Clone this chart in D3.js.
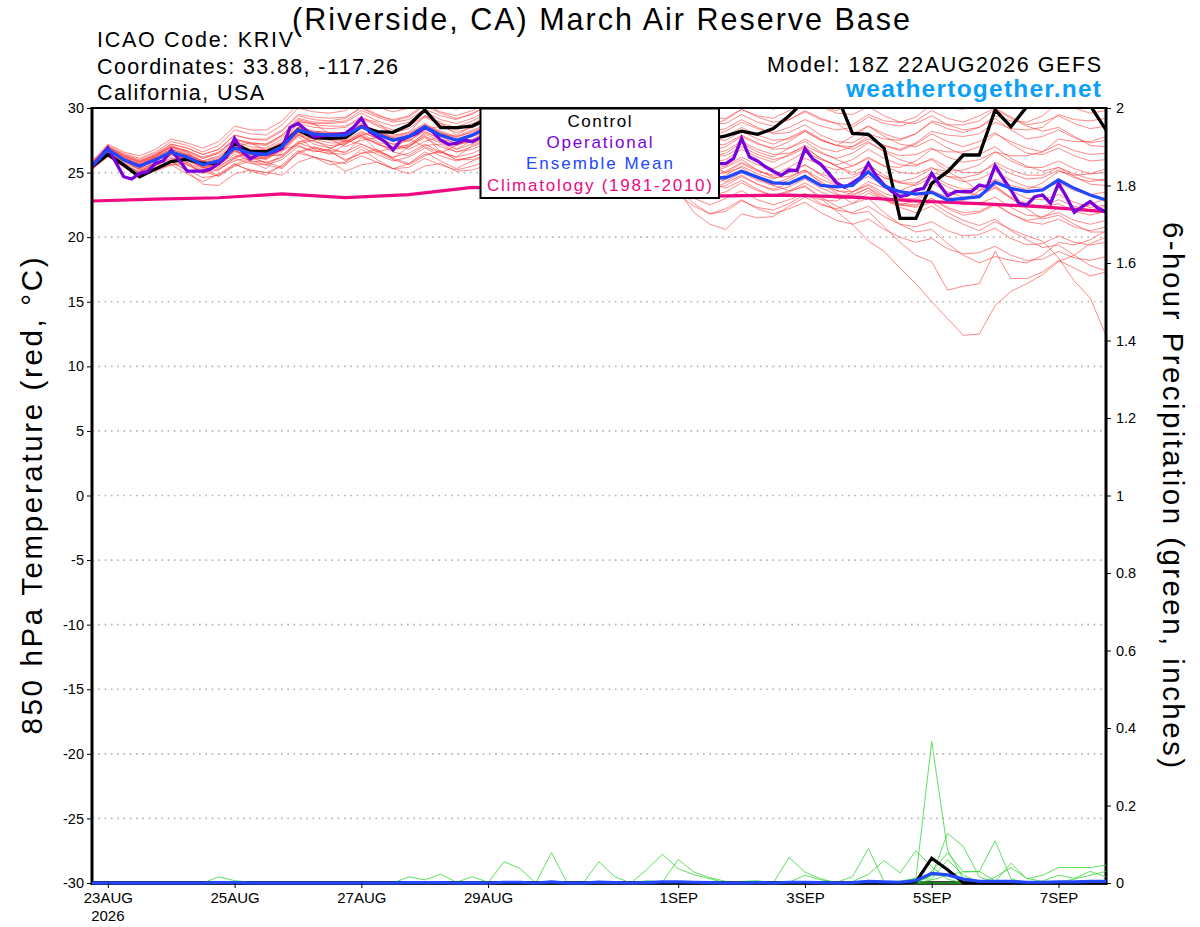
<!DOCTYPE html>
<html><head><meta charset="utf-8">
<script src="https://cdn.jsdelivr.net/npm/d3@7"></script>
<style>
body{margin:0;background:#fff;}
svg{display:block;font-family:"Liberation Sans",Arial,Helvetica,sans-serif;}
</style>
</head><body>
<svg id="chart" width="1200" height="927"></svg>
<script>
// ---------------- DATA ----------------
const runStartUTC = Date.UTC(2026, 7, 22, 18); // 18Z 22AUG2026
const tempTicks = [30,25,20,15,10,5,0,-5,-10,-15,-20,-25,-30];
const precipTicks = [0,0.2,0.4,0.6,0.8,1,1.2,1.4,1.6,1.8,2];
const dateTicks = ["2026-08-23","2026-08-25","2026-08-27","2026-08-29","2026-09-01","2026-09-03","2026-09-05","2026-09-07"];
const dateLabels = ["23AUG","25AUG","27AUG","29AUG","1SEP","3SEP","5SEP","7SEP"];
const yearLabel = "2026";

// 6-hourly control run 850 hPa temperature (C)
const controlTemp = [25.46,26.41,25.59,24.68,25.28,25.85,26.03,25.72,25.72,27.26,26.62,26.62,27.14,28.3,27.7,27.65,27.7,28.55,28.17,28.12,28.68,29.85,28.48,28.48,28.6,
 29.2,28.8,28.5,28.7,29.5,29.0,28.4,28.3,28.9,28.4,27.9,27.8,28.4,28.0,27.6,
 27.85,28.2,27.96,28.4,29.4,30.6,31.0,31.0,28.04,27.96,26.88,21.46,21.46,24.17,25.07,26.36,26.36,29.85,28.55,30.1,30.8,31.2,30.9,30.2,28.3];

// 6-hourly ensemble mean temperature
const meanTemp = [25.5,26.8,26.0,25.5,26.0,26.6,26.2,25.6,25.9,26.9,26.5,26.4,27.0,28.3,28.0,27.9,27.9,28.55,27.96,27.5,27.8,28.55,27.9,27.5,27.9,
 28.5,27.9,27.5,27.5,27.9,27.3,26.8,26.6,26.9,26.3,25.7,25.4,25.7,25.1,24.6,
 24.6,25.1,24.65,24.2,24.15,24.7,24.0,23.9,24.0,25.07,23.95,23.52,23.34,23.47,22.88,23.0,23.13,24.25,23.78,23.52,23.65,24.43,23.78,23.26,22.88];

// 3-hourly operational temperature
const operTemp = [25.46,26.2,26.93,25.8,24.68,24.5,24.94,25.07,25.72,25.9,26.75,25.97,25.12,25.12,25.12,25.28,25.72,26.23,27.65,26.62,26.05,26.41,26.41,26.62,26.88,28.5,28.81,28.3,27.78,27.85,27.91,27.95,28.04,28.5,29.2,28.17,27.78,27.39,26.75,27.52,27.78,28.04,28.48,28.17,27.52,27.19,27.26,27.52,27.39,27.7,
 28.3,28.9,28.4,27.9,27.6,27.8,28.1,28.7,29.0,28.5,27.9,27.3,27.0,27.4,27.9,27.6,27.0,26.5,26.2,26.6,27.1,26.8,26.3,25.9,25.6,25.9,26.3,25.9,25.6,
 25.7,25.7,26.1,27.65,26.2,25.9,25.45,25.1,24.78,25.2,25.15,26.85,26.05,25.64,24.94,24.2,23.85,24.2,24.6,25.72,24.75,24.04,23.52,23.15,23.26,23.65,23.78,24.94,24.04,23.21,23.52,23.52,23.52,24.04,23.9,25.53,24.56,23.65,22.62,22.49,23.13,23.26,22.62,24.17,23.13,21.92,22.36,22.75,22.23,21.97];

// daily climatology (1981-2010) at 18Z
const climTemp = [22.8,22.95,23.05,23.35,23.06,23.3,23.85,23.7,23.3,23.1,23.2,23.26,23.1,22.8,22.6,22.35,21.97];

// 30 perturbed ensemble members, 6-hourly
const member01 = [25.7,26.9,26.3,25.8,26.4,27.2,26.9,26.4,26.8,27.9,27.6,27.5,28.2,29.4,29.1,29.0,29.2,30.1,29.5,29.0,29.3,30.2,29.6,29.2,29.5, 30.3,29.8,29.3,29.4,30.1,29.6,29.0,28.9,29.6,29.2,28.6,28.5,29.3,29.0,28.6, 29.1,29.9,29.4,29.2,29.8,30.6,30.1,29.8,30.4,31.2,30.8,30.5,30.9,31.5,31.0,30.7,31.0,31.6,30.9,30.4,30.6,31.1,30.5,30.0,30.2];
const member02 = [25.6,26.7,26.0,25.6,26.2,26.9,26.5,25.9,26.3,27.4,27.0,26.9,27.6,28.8,28.5,28.4,28.5,29.2,28.6,28.1,28.4,29.3,28.7,28.3,28.8, 29.4,28.9,28.5,28.6,29.2,28.7,28.2,28.1,28.7,28.3,27.9,27.8,28.4,28.1,27.8, 28.2,28.9,28.4,28.1,28.5,29.1,28.6,28.3,28.5,29.3,28.8,28.6,29.0,29.8,29.2,28.9,29.4,30.0,29.3,28.7,28.9,29.4,28.8,28.4,28.6];
const member03 = [25.4,26.5,25.8,25.5,26.1,26.2,25.6,25.0,25.6,26.9,26.3,25.7,26.2,27.2,27.5,27.8,27.4,27.9,28.2,27.7,27.4,28.3,28.6,28.1,28.5, 29.0,28.4,27.9,27.9,28.3,27.8,27.3,27.2,27.7,27.3,26.8,26.7,27.3,27.0,26.7, 27.0,27.8,27.2,26.9,27.4,28.2,27.5,27.1,27.8,28.6,28.0,27.6,28.0,28.9,28.4,28.1,28.5,29.2,28.3,27.6,27.8,28.3,27.7,27.3,27.5];
const member04 = [25.5,26.8,26.1,25.7,26.1,26.5,26.0,25.3,25.6,26.6,26.1,26.1,26.8,27.9,27.4,27.1,27.2,27.9,27.2,26.8,27.2,28.0,27.4,27.1,27.6, 28.2,27.6,27.2,27.3,27.9,27.4,26.9,26.8,27.4,27.0,26.4,26.2,26.9,26.6,26.2, 26.5,27.3,26.6,26.2,26.9,27.6,26.9,26.6,27.0,27.8,27.1,26.7,27.2,28.0,27.4,27.0,27.4,28.1,27.2,26.5,26.4,26.9,26.3,25.9,26.0];
const member05 = [25.8,27.1,26.5,26.1,26.6,27.4,27.1,26.6,27.1,28.3,28.0,27.9,28.7,30.0,29.7,29.6,29.8,30.7,30.1,29.7,30.0,30.8,30.2,29.9,30.3, 31.0,30.5,30.1,30.2,30.9,30.4,29.9,29.9,30.6,30.3,29.8,29.7,30.4,30.1,29.7, 30.2,30.9,30.3,29.9,30.3,30.9,30.1,29.6,29.5,30.1,29.4,28.9,28.8,29.4,28.7,28.3,28.5,29.4,29.0,28.9,29.4,30.4,30.0,29.6,29.8];
const member06 = [25.3,26.6,26.1,25.4,25.5,26.4,26.3,25.7,25.3,25.9,26.2,26.0,26.8,27.1,26.6,26.8,27.5,27.2,26.6,26.9,27.6,27.0,26.5,27.1,27.5, 28.0,27.4,27.0,27.0,27.5,27.0,26.5,26.4,27.0,26.6,26.0,25.8,26.4,26.1,25.8, 26.0,26.8,26.2,25.8,26.4,27.1,26.5,26.1,26.5,27.3,26.7,26.3,26.4,26.9,26.2,25.8,26.0,26.6,25.9,25.4,25.4,25.9,25.3,24.9,25.0];
const member07 = [25.6,26.9,26.2,25.6,26.0,26.4,25.9,25.5,25.8,26.7,26.2,26.2,26.9,28.1,27.7,27.5,27.4,28.0,27.4,27.0,27.1,27.8,27.3,26.8,27.2, 27.8,27.1,26.7,26.8,27.3,26.8,26.3,26.1,26.6,26.2,25.6,25.4,25.9,25.6,25.3, 25.5,26.2,25.6,25.3,25.9,26.6,26.0,25.6,26.0,26.8,26.1,25.6,25.5,26.1,25.4,25.0,25.0,25.6,24.9,24.5,24.6,25.2,24.6,24.3,24.5];
const member08 = [25.4,26.7,26.0,25.4,25.9,26.5,26.1,25.4,25.7,26.7,26.3,26.1,26.7,27.9,27.6,27.3,27.3,27.8,27.2,26.8,27.0,27.7,27.0,26.6,27.0, 27.5,26.8,26.3,26.3,26.8,26.2,25.7,25.6,26.0,25.6,25.0,24.8,25.2,24.9,24.8, 25.0,25.7,25.1,24.8,25.4,26.1,25.6,25.2,25.5,26.2,25.5,25.0,24.9,25.4,24.7,24.3,24.5,25.1,24.4,23.9,23.8,24.2,23.6,23.3,23.5];
const member09 = [25.5,26.5,25.6,25.0,25.6,26.5,26.4,25.9,25.5,26.2,26.6,26.4,26.3,27.4,27.5,26.9,26.5,27.7,27.3,26.6,26.3,27.1,27.2,26.6,26.8, 27.3,26.6,26.1,26.1,26.6,26.0,25.4,25.3,25.8,25.3,24.8,24.6,25.1,24.8,24.4, 24.8,25.5,24.9,24.5,25.0,25.6,24.9,24.5,24.6,25.3,24.6,24.2,24.2,24.8,24.1,23.7,23.8,24.4,23.6,23.0,22.9,23.3,22.7,22.3,22.5];
const member10 = [25.6,26.8,26.0,25.5,25.9,26.5,26.0,25.4,25.6,26.4,25.9,25.8,26.2,27.3,26.9,26.7,26.6,27.2,26.7,26.2,26.5,27.2,26.6,26.2,26.5, 27.0,26.3,25.8,25.8,26.3,25.7,25.1,24.9,25.4,25.0,24.5,24.3,24.7,24.3,24.0, 24.5,25.2,24.5,24.1,24.6,25.2,24.5,24.0,24.1,24.7,24.0,23.5,23.6,24.2,23.5,23.1,23.2,23.8,23.0,22.4,22.3,22.6,22.0,21.7,22.0];
const member11 = [25.3,26.4,25.7,25.3,25.7,26.1,25.6,25.0,25.2,26.1,25.7,25.6,26.0,27.0,26.7,26.5,26.4,27.0,26.4,25.9,26.2,26.9,26.3,25.9,26.2, 26.6,25.9,25.4,25.4,25.8,25.2,24.7,24.5,24.9,24.5,24.0,23.8,24.3,24.0,23.7, 24.0,24.7,24.1,23.7,24.2,24.8,24.1,23.6,23.5,24.1,23.4,23.0,23.0,23.6,22.9,22.5,22.6,23.1,22.3,21.7,21.6,21.9,21.3,21.0,21.3];
const member12 = [25.4,26.4,25.9,25.3,25.2,25.6,25.7,25.1,24.7,25.5,25.9,25.6,25.3,26.5,26.9,26.6,26.0,26.5,26.6,26.0,25.6,26.3,26.7,26.0,26.0, 26.4,25.6,25.1,25.0,25.4,24.8,24.3,24.1,24.5,24.1,23.7,23.5,23.9,23.6,23.2, 23.5,24.2,23.6,23.2,23.6,24.2,23.5,23.0,23.0,23.6,22.9,22.5,22.4,23.0,22.3,21.9,22.0,22.6,21.8,21.2,21.0,21.4,20.8,20.5,20.8];
const member13 = [25.2,26.3,25.6,25.0,25.3,25.8,25.2,24.6,24.8,25.6,25.2,25.0,25.5,26.5,26.2,25.9,25.7,26.3,25.8,25.3,25.4,26.1,25.6,25.2,25.5, 25.9,25.2,24.7,24.6,25.0,24.4,23.9,23.7,24.0,23.7,23.3,23.2,23.6,23.0,22.5, 23.0,23.6,22.9,22.5,22.9,23.4,22.6,22.1,21.9,22.4,21.6,21.0,20.8,21.2,20.5,20.1,20.2,20.7,19.9,19.4,19.5,20.1,19.6,19.4,19.6];
const member14 = [25.3,26.3,25.4,24.8,25.3,25.9,25.1,24.1,24.0,24.9,25.2,25.0,24.8,25.8,26.2,25.9,25.1,25.6,25.8,25.3,24.9,25.5,25.7,25.1,25.2, 25.6,24.9,24.4,24.2,24.6,24.0,23.5,23.4,23.8,23.5,23.3,23.1,23.3,22.4,21.8, 22.2,22.9,22.2,21.8,22.2,22.7,21.9,21.3,21.0,21.4,20.6,20.0,19.6,19.9,19.1,18.7,18.8,19.3,18.6,18.2,18.3,18.9,18.4,18.2,18.5];
const member15 = [25.6,26.9,26.2,25.8,26.2,26.8,26.4,25.8,26.1,27.2,26.8,26.8,27.4,28.5,28.1,28.0,28.0,28.6,28.0,27.6,27.8,28.5,28.0,27.8,28.3, 28.7,28.1,27.7,27.6,28.0,27.4,26.9,26.8,27.2,26.8,26.2,26.0,26.4,26.0,25.6, 25.0,25.4,24.6,24.0,23.6,23.9,23.0,22.0,21.0,19.7,18.9,17.6,16.4,15.0,13.7,12.4,12.5,14.7,15.8,16.4,17.1,18.1,18.6,19.5,20.0];
const member16 = [25.5,26.7,26.0,25.5,25.9,26.4,26.0,25.4,25.7,26.7,26.3,26.2,26.8,28.0,27.7,27.6,27.5,28.2,27.6,27.2,27.5,28.2,27.6,27.3,27.8, 28.2,27.6,27.1,27.0,27.4,26.9,26.4,26.2,26.6,26.2,25.7,25.5,25.9,25.4,24.8, 24.3,25.0,24.4,24.0,24.4,25.1,24.3,23.6,23.3,23.8,22.9,22.3,21.9,22.4,21.6,21.0,20.5,21.2,20.6,20.1,19.7,18.4,16.6,15.3,12.4];
const member17 = [25.4,26.7,26.1,25.2,25.5,26.4,26.1,25.4,25.2,26.1,26.5,26.3,26.9,28.0,27.2,26.9,27.3,28.1,27.7,26.8,27.0,28.1,27.6,26.8,27.5, 27.9,27.2,26.7,26.6,27.0,26.4,25.9,25.7,26.1,25.6,25.1,24.9,25.3,24.8,24.2, 23.8,24.4,23.7,23.2,23.5,24.0,23.1,22.4,21.8,22.0,20.8,19.6,18.6,18.1,15.9,16.2,16.4,18.9,16.8,16.8,17.3,18.2,17.6,17.0,17.3];
const member18 = [25.7,27.0,26.3,25.9,26.4,27.0,26.6,26.1,26.5,27.5,27.2,27.1,27.8,29.0,28.7,28.6,28.6,29.3,28.7,28.3,28.6,29.4,28.8,28.5,29.0, 29.6,29.1,28.7,28.8,29.4,28.9,28.4,28.3,28.9,28.5,28.0,27.8,28.4,28.0,27.6, 27.5,28.2,27.6,27.2,27.7,28.3,27.6,27.1,26.8,27.4,26.6,26.0,25.6,26.0,25.1,24.4,23.6,24.0,23.0,22.2,21.4,21.7,21.0,20.4,20.4];
const member19 = [25.8,27.0,26.4,26.0,26.5,27.2,26.9,26.4,26.8,27.9,27.6,27.6,28.3,29.5,29.3,29.2,29.3,30.0,29.4,29.1,29.4,30.3,29.7,29.4,29.8, 30.4,29.9,29.5,29.6,30.2,29.7,29.3,29.2,29.8,29.4,29.0,28.9,29.5,29.2,28.8, 28.8,29.5,28.9,28.6,29.1,29.8,29.2,28.8,28.0,28.6,27.8,27.2,27.0,27.6,26.9,26.4,26.4,27.0,26.1,25.5,25.1,25.4,24.7,24.1,24.0];
const member20 = [25.6,26.9,26.0,25.4,26.3,27.1,26.6,25.6,25.8,27.0,27.3,26.7,27.1,28.9,28.8,28.0,27.9,29.2,28.9,27.9,28.1,29.4,28.9,27.9,28.6, 29.2,28.7,28.2,28.2,28.8,28.3,27.9,27.8,28.3,27.9,27.4,27.2,27.8,27.5,27.1, 27.2,27.9,27.3,26.8,26.9,27.4,26.6,26.0,25.5,26.1,25.5,25.4,25.9,26.8,26.6,26.6,27.0,28.0,27.4,26.9,26.6,27.2,26.7,26.4,26.5];
const member21 = [25.5,26.7,26.0,25.5,26.1,26.7,26.3,25.7,26.0,27.0,26.6,26.5,27.2,28.4,28.1,28.0,28.0,28.7,28.1,27.6,27.9,28.7,28.1,27.6,27.9, 28.5,27.9,27.5,27.5,28.0,27.6,27.1,27.0,27.5,27.1,26.6,26.4,27.0,26.6,26.3, 26.3,27.0,26.4,26.0,26.3,26.9,26.1,25.5,24.8,25.3,24.6,24.3,24.6,25.3,25.1,25.2,25.6,26.6,26.3,26.3,26.6,27.6,27.4,27.4,27.8];
const member22 = [25.4,26.5,26.0,25.6,25.6,26.0,26.3,25.7,25.4,26.2,26.6,26.3,26.4,27.3,27.8,27.6,27.0,27.5,27.7,27.2,26.8,27.4,27.8,27.2,27.4, 27.9,27.3,26.8,26.7,27.1,26.6,26.1,26.0,26.4,25.9,25.3,25.1,25.6,25.2,24.9, 25.1,25.8,25.2,24.7,25.0,25.6,24.8,24.1,23.5,24.0,23.2,22.6,22.5,23.0,22.2,21.7,21.9,22.5,21.8,21.3,21.5,22.3,22.1,22.5,23.0];
const member23 = [25.9,27.2,26.6,26.3,26.8,27.6,27.3,26.9,27.4,28.6,28.3,28.3,29.0,30.3,30.0,30.0,30.1,31.0,30.4,30.0,30.3,31.2,30.6,30.2,30.5, 31.3,30.7,30.2,30.2,30.9,30.3,29.8,29.7,30.4,29.9,29.4,29.3,29.9,29.5,29.2, 29.2,29.9,29.3,28.9,29.1,29.7,29.1,28.8,28.7,29.5,29.0,28.9,29.3,30.3,30.0,29.9,30.4,31.4,30.9,30.6,30.8,31.7,31.2,30.9,31.0];
const member24 = [25.7,26.9,26.3,25.8,26.3,27.0,26.7,26.2,26.6,27.6,27.3,27.2,27.9,29.1,28.8,28.8,28.9,29.6,29.0,28.6,28.9,29.7,29.1,28.8,29.2, 29.8,29.2,28.8,28.8,29.3,28.8,28.4,28.3,28.8,28.4,27.9,27.8,28.4,28.0,27.7, 27.8,28.5,27.9,27.5,27.6,28.2,27.5,27.1,27.0,27.6,27.1,26.8,27.3,28.2,27.9,27.8,28.0,28.9,28.4,28.3,28.5,29.5,29.1,29.0,29.2];
const member25 = [25.3,26.4,25.9,25.2,25.1,25.6,25.8,25.2,24.8,25.6,26.1,25.8,25.4,26.6,27.0,26.7,25.9,26.5,26.8,26.1,25.7,26.4,26.6,26.0,26.2, 26.7,26.0,25.6,25.5,25.9,25.4,24.9,24.7,25.1,24.7,24.2,24.0,24.4,24.0,23.7, 24.2,24.8,24.1,23.6,23.9,24.5,23.8,23.3,23.2,23.8,23.1,22.5,22.3,22.7,21.9,21.3,20.9,21.4,20.5,19.8,19.2,19.4,18.6,17.8,17.4];
const member26 = [25.5,26.7,25.7,25.0,25.9,26.7,25.8,24.9,25.6,26.8,25.8,25.3,26.6,27.8,26.8,26.4,27.2,27.9,26.7,26.1,27.0,27.9,26.6,26.2,27.1, 27.6,26.9,26.4,26.3,26.7,26.1,25.5,25.3,25.7,25.0,24.3,23.8,23.6,21.9,21.0, 20.6,21.8,21.5,21.6,22.4,23.1,22.5,22.2,22.6,23.4,22.9,22.5,22.8,23.6,23.1,22.8,23.6,24.5,24.0,23.7,24.2,25.1,24.8,24.9,25.3];
const member27 = [25.6,26.7,26.1,25.6,26.0,26.6,26.3,25.7,26.0,27.0,26.7,26.6,27.3,28.5,28.2,28.1,28.1,28.8,28.2,27.8,28.1,28.8,28.2,27.8,28.1, 28.6,28.1,27.7,27.7,28.2,27.7,27.2,27.1,27.6,27.2,26.7,26.5,27.1,26.7,26.4, 26.7,27.4,26.8,26.4,26.5,27.0,26.1,25.5,25.0,25.6,24.8,24.2,24.0,24.6,23.9,23.4,23.3,23.9,23.1,22.6,22.4,22.9,22.4,22.1,22.4];
const member28 = [25.3,26.2,25.5,25.1,25.6,25.6,24.9,24.3,24.9,25.7,25.1,24.8,25.6,26.7,26.2,25.6,25.8,26.8,26.0,25.3,25.7,26.6,25.9,25.3,25.9, 26.3,25.6,25.1,25.0,25.4,24.8,24.3,24.1,24.5,24.0,23.6,23.4,23.7,22.6,21.8, 22.0,22.8,22.3,22.1,22.6,23.3,22.9,22.8,23.5,24.3,23.8,23.6,24.1,25.0,24.7,24.6,24.9,25.8,25.2,24.8,24.8,25.4,24.9,24.5,24.4];
const member29 = [25.7,27.0,26.4,25.9,26.3,27.0,26.7,26.1,26.5,27.6,27.3,27.2,27.9,29.2,28.9,28.9,29.0,29.8,29.3,28.9,29.1,29.9,29.4,29.1,29.6, 30.1,29.6,29.2,29.2,29.8,29.3,28.9,28.8,29.3,28.9,28.4,28.3,28.9,28.6,28.2, 28.4,29.1,28.5,28.0,28.1,28.7,27.9,27.4,27.3,28.0,27.6,27.5,28.0,29.0,28.7,28.7,29.0,29.9,29.2,28.6,28.2,28.5,27.8,27.1,27.0];
const member30 = [25.5,26.8,26.1,25.7,26.2,26.8,26.4,25.9,26.2,27.2,26.8,26.7,27.3,28.5,28.2,28.1,28.1,28.7,28.1,27.7,28.0,28.7,28.1,27.7,28.2, 28.6,28.0,27.5,27.4,27.8,27.3,26.7,26.5,26.9,26.4,25.8,25.5,25.9,25.4,25.0, 25.4,26.0,25.2,24.6,24.7,25.2,24.2,23.4,22.6,23.0,21.9,21.0,20.4,20.6,19.5,18.6,18.0,18.5,18.2,18.0,18.6,19.6,19.4,19.8,20.5];
const memberTemps = [member01,member02,member03,member04,member05,member06,member07,member08,member09,member10,
  member11,member12,member13,member14,member15,member16,member17,member18,member19,member20,
  member21,member22,member23,member24,member25,member26,member27,member28,member29,member30];

// 6-hour precipitation (inches), 6-hourly
const controlPrecip = [0,0,0,0,0, 0,0,0,0,0, 0,0,0,0,0, 0,0,0,0,0, 0,0,0,0,0, 0,0,0,0,0, 0,0,0,0,0, 0,0,0,0,0, 0,0,0,0,0, 0,0,0,0,0, 0,0,0.003,0.064,0.034, 0,0,0,0,0, 0,0,0,0,0];
const meanPrecip = [0,0,0,0,0, 0,0,0,0.001,0.001, 0,0,0,0,0, 0,0,0,0,0, 0.001,0.001,0.001,0,0.001, 0,0.002,0.002,0,0.003, 0,0,0.002,0.001,0, 0.001,0.003,0.003,0.002,0.001, 0,0,0.001,0,0.002, 0.002,0.001,0,0.001,0.004, 0.003,0.002,0.006,0.025,0.021, 0.01,0.004,0.004,0.004,0.002, 0.002,0.003,0.003,0.004,0.004];
const memberPrecip01 = [0,0,0,0,0, 0,0,0,0.016,0.006, 0.002,0,0,0,0, 0,0,0,0,0, 0,0,0,0,0, 0,0,0,0,0, 0,0,0,0,0, 0,0,0,0,0, 0,0,0,0,0, 0,0,0,0,0, 0,0,0.012,0.365,0.085, 0.01,0,0,0,0, 0,0,0,0,0];
const memberPrecip02 = [0,0,0,0,0, 0,0,0,0,0, 0,0,0,0,0, 0,0,0,0,0, 0,0,0,0,0, 0,0.055,0.038,0,0.078, 0,0,0.055,0.016,0, 0.034,0.074,0.037,0.021,0.011, 0,0,0,0,0, 0,0,0,0,0, 0,0,0,0,0, 0,0,0,0,0, 0,0,0,0,0];
const memberPrecip03 = [0,0,0,0,0, 0,0,0,0,0, 0,0,0,0,0, 0,0,0,0,0, 0.016,0.008,0.023,0.002,0.016, 0.002,0,0,0,0, 0,0,0,0,0, 0.006,0.002,0.061,0.028,0.014, 0.004,0,0,0,0.066, 0.028,0.011,0,0,0, 0,0,0,0,0, 0,0,0,0,0, 0,0,0,0,0];
const memberPrecip04 = [0,0,0,0,0, 0,0,0,0,0, 0,0,0,0,0, 0,0,0,0,0, 0,0,0,0,0, 0,0,0,0,0, 0,0,0,0,0, 0,0,0,0,0, 0,0,0.003,0,0.002, 0.02,0.008,0.002,0.016,0.089, 0.003,0,0,0.03,0.078, 0.029,0.03,0.005,0,0, 0,0,0,0,0];
const memberPrecip05 = [0,0,0,0,0, 0,0,0,0,0, 0,0,0,0,0, 0,0,0,0,0, 0,0,0,0,0, 0,0,0,0,0, 0,0,0,0,0, 0,0,0,0,0, 0,0,0,0,0, 0,0,0,0.004,0.022, 0.058,0.026,0.083,0.042,0.01, 0,0,0.003,0.051,0.011, 0.02,0.04,0.04,0.04,0.046];
const memberPrecip06 = [0,0,0,0,0, 0,0,0,0,0, 0,0,0,0,0, 0,0,0,0,0, 0,0,0,0,0, 0,0,0,0,0, 0,0,0,0,0, 0,0,0,0,0, 0,0,0,0,0, 0,0,0,0,0, 0,0,0.005,0.018,0.128, 0.094,0.016,0,0,0, 0.005,0.02,0.012,0.03,0.016];
const memberPrecip07 = [0,0,0,0,0, 0,0,0,0,0, 0,0,0,0,0, 0,0,0,0,0, 0,0,0,0,0, 0,0,0,0,0, 0,0,0,0,0, 0,0,0,0,0, 0,0,0,0,0, 0,0,0,0,0, 0,0,0,0.008,0.02, 0.029,0.029,0.109,0.011,0, 0,0.002,0.01,0.02,0.03];
const memberPrecip08 = [0,0,0,0,0, 0,0,0,0,0, 0,0,0,0,0, 0,0,0,0,0, 0,0,0,0,0, 0,0,0,0,0, 0,0,0,0,0, 0,0,0,0,0, 0,0,0,0,0, 0,0,0,0,0, 0,0,0,0.02,0.02, 0.01,0,0.015,0.04,0.012, 0.004,0,0,0,0];
const memberPrecip09 = [0,0,0,0,0, 0,0,0,0,0, 0,0,0,0,0, 0,0,0,0,0, 0,0,0,0,0, 0,0,0,0,0, 0,0,0,0,0, 0,0,0,0,0, 0,0.004,0.006,0,0, 0,0,0,0,0, 0,0.005,0.012,0.01,0.06, 0.02,0.002,0,0,0, 0,0,0,0,0];
const memberPrecips = [memberPrecip01,memberPrecip02,memberPrecip03,memberPrecip04,memberPrecip05,memberPrecip06,memberPrecip07,memberPrecip08,memberPrecip09];

// ---------------- DRAWING ----------------
const HOUR = 3600e3;
const svg = d3.select("#chart");
const W = 1200;
const plot = {left: 92, right: 1106, top: 108, bottom: 883};

const times6 = controlTemp.map((d,i) => new Date(runStartUTC + i*6*HOUR));
const times3 = operTemp.map((d,j) => new Date(runStartUTC + j*3*HOUR));
const times24 = climTemp.map((d,k) => new Date(runStartUTC + k*24*HOUR));

const x = d3.scaleUtc()
  .domain([new Date(runStartUTC), new Date(runStartUTC + 384*HOUR)])
  .range([plot.left, plot.right]);
const yT = d3.scaleLinear().domain([-30, 30]).range([plot.bottom, plot.top]);
const yP = d3.scaleLinear().domain([0, 2]).range([plot.bottom, plot.top]);

svg.append("rect").attr("width", W).attr("height", 927).attr("fill", "#fff");

svg.append("defs").append("clipPath").attr("id","plotclip")
  .append("rect").attr("x", plot.left).attr("y", plot.top)
  .attr("width", plot.right - plot.left).attr("height", plot.bottom - plot.top);

// gridlines (dotted)
svg.append("g").selectAll("line")
  .data(tempTicks.filter(t => t > -30 && t < 30))
  .join("line")
  .attr("x1", plot.left).attr("x2", plot.right)
  .attr("y1", d => yT(d)).attr("y2", d => yT(d))
  .attr("stroke", "#b4b4b4").attr("stroke-width", 1.6)
  .attr("stroke-dasharray", "1.6,4.7");

const gLines = svg.append("g").attr("clip-path", "url(#plotclip)");
const line6 = d3.line().x((d,i) => x(times6[i])).y(d => yT(d));
const line3 = d3.line().x((d,j) => x(times3[j])).y(d => yT(d));
const line24 = d3.line().x((d,k) => x(times24[k])).y(d => yT(d));
const lineP = d3.line().x((d,i) => x(times6[i])).y(d => yP(d));

// ensemble members
gLines.append("g").selectAll("path").data(memberTemps).join("path")
  .attr("d", line6).attr("fill", "none")
  .attr("stroke", "#ff3a3a").attr("stroke-opacity", 0.7).attr("stroke-width", 0.85)
  .attr("stroke-linejoin", "round");

// climatology
gLines.append("path").datum(climTemp).attr("d", line24)
  .attr("fill","none").attr("stroke","#ee0a80").attr("stroke-width",3.2);
// control
gLines.append("path").datum(controlTemp).attr("d", line6)
  .attr("fill","none").attr("stroke","#000").attr("stroke-width",3.3).attr("stroke-linejoin","miter");
// operational
gLines.append("path").datum(operTemp).attr("d", line3)
  .attr("fill","none").attr("stroke","#7a00dc").attr("stroke-width",3.3);
// ensemble mean
gLines.append("path").datum(meanTemp).attr("d", line6)
  .attr("fill","none").attr("stroke","#2247ff").attr("stroke-width",3.3);

// frame / axes lines
const frame = svg.append("g").attr("stroke","#000").attr("fill","none");
frame.append("line").attr("x1",plot.left).attr("x2",plot.right).attr("y1",plot.top).attr("y2",plot.top).attr("stroke-width",2.2);
frame.append("line").attr("x1",plot.left).attr("x2",plot.left).attr("y1",plot.top-1).attr("y2",plot.bottom+2).attr("stroke-width",3);
frame.append("line").attr("x1",plot.right).attr("x2",plot.right).attr("y1",plot.top-1).attr("y2",plot.bottom+2).attr("stroke-width",3);
frame.append("line").attr("x1",plot.left-1).attr("x2",plot.right+1).attr("y1",plot.bottom).attr("y2",plot.bottom).attr("stroke-width",3.6);

// precipitation lines (drawn over the bottom axis)
const gP = svg.append("g");
gP.append("g").selectAll("path").data(memberPrecips).join("path")
  .attr("d", lineP).attr("fill","none")
  .attr("stroke","#2fd52f").attr("stroke-opacity",0.85).attr("stroke-width",0.9);
gP.append("path").datum(controlPrecip).attr("d", lineP)
  .attr("fill","none").attr("stroke","#000").attr("stroke-width",3.2);
gP.append("path").datum(meanPrecip).attr("d", lineP)
  .attr("fill","none").attr("stroke","#2247ff").attr("stroke-width",3.2);

// left axis
const axL = svg.append("g").attr("transform", `translate(${plot.left},0)`)
  .call(d3.axisLeft(yT).tickValues(tempTicks).tickSize(5).tickPadding(3).tickFormat(d => String(d)));
axL.select(".domain").remove();
axL.selectAll(".tick line").attr("stroke","#000").attr("stroke-width",1);
axL.selectAll(".tick text").attr("font-size", 14.5).attr("fill","#000")
  .attr("font-family","'Liberation Sans',Arial,sans-serif");

// right axis
const axR = svg.append("g").attr("transform", `translate(${plot.right},0)`)
  .call(d3.axisRight(yP).tickValues(precipTicks).tickSize(5).tickPadding(5).tickFormat(d => String(+d.toFixed(1))));
axR.select(".domain").remove();
axR.selectAll(".tick line").attr("stroke","#000").attr("stroke-width",1);
axR.selectAll(".tick text").attr("font-size", 14.5).attr("fill","#000")
  .attr("font-family","'Liberation Sans',Arial,sans-serif");

// bottom axis
const tickDates = dateTicks.map(s => new Date(s + "T00:00:00Z"));
const axB = svg.append("g").attr("transform", `translate(0,${plot.bottom})`)
  .call(d3.axisBottom(x).tickValues(tickDates).tickSize(5).tickPadding(4)
    .tickFormat((d,i) => dateLabels[i]));
axB.select(".domain").remove();
axB.selectAll(".tick line").attr("stroke","#000").attr("stroke-width",1);
axB.selectAll(".tick text").attr("font-size", 15).attr("fill","#000")
  .attr("font-family","'Liberation Sans',Arial,sans-serif");
svg.append("text").attr("x", x(tickDates[0])).attr("y", 920.5)
  .attr("text-anchor","middle").attr("font-size",15).text(yearLabel);

// axis titles
svg.append("text").attr("transform","translate(42,496) rotate(-90)")
  .attr("text-anchor","middle").attr("font-size",29.5)
  .attr("textLength",477).attr("lengthAdjust","spacing")
  .text("850 hPa Temperature (red, \u00B0C)");
svg.append("text").attr("transform","translate(1163,495) rotate(90)")
  .attr("text-anchor","middle").attr("font-size",29.5)
  .attr("textLength",546).attr("lengthAdjust","spacing")
  .text("6-hour Precipitation (green, inches)");

// header
function headText(str, x0, y0, size, len, opts={}) {
  const t = svg.append("text").attr("x", x0).attr("y", y0).attr("font-size", size)
    .attr("textLength", len).attr("lengthAdjust","spacing").text(str);
  if (opts.weight) t.attr("font-weight", opts.weight);
  if (opts.fill) t.attr("fill", opts.fill);
  return t;
}
headText("(Riverside, CA) March Air Reserve Base", 292, 30, 30.5, 618);
headText("ICAO Code: KRIV", 97, 47, 21.5, 196);
headText("Coordinates: 33.88, -117.26", 97, 73.5, 21.5, 301);
headText("California, USA", 97, 99.5, 21.5, 167);
headText("Model: 18Z 22AUG2026 GEFS", 767, 72, 21.5, 334);
headText("weathertogether.net", 846, 97, 24.5, 255, {weight:"bold", fill:"#0aa0fa"});

// legend
const legend = svg.append("g");
legend.append("rect").attr("x",480.5).attr("y",108.5).attr("width",238.5).attr("height",89.5)
  .attr("fill","#fff").attr("stroke","#000").attr("stroke-width",2);
const legendItems = [
  {t:"Control", c:"#000", y:127.3, w:64},
  {t:"Operational", c:"#7a00dc", y:148, w:106},
  {t:"Ensemble Mean", c:"#2247ff", y:169, w:147},
  {t:"Climatology (1981-2010)", c:"#ee0a80", y:190.7, w:225}
];
legend.selectAll("text").data(legendItems).join("text")
  .attr("x", 599.5).attr("y", d => d.y).attr("text-anchor","middle")
  .attr("font-size", 17).attr("fill", d => d.c)
  .attr("textLength", d => d.w).attr("lengthAdjust","spacing")
  .text(d => d.t);
</script>
</body></html>
